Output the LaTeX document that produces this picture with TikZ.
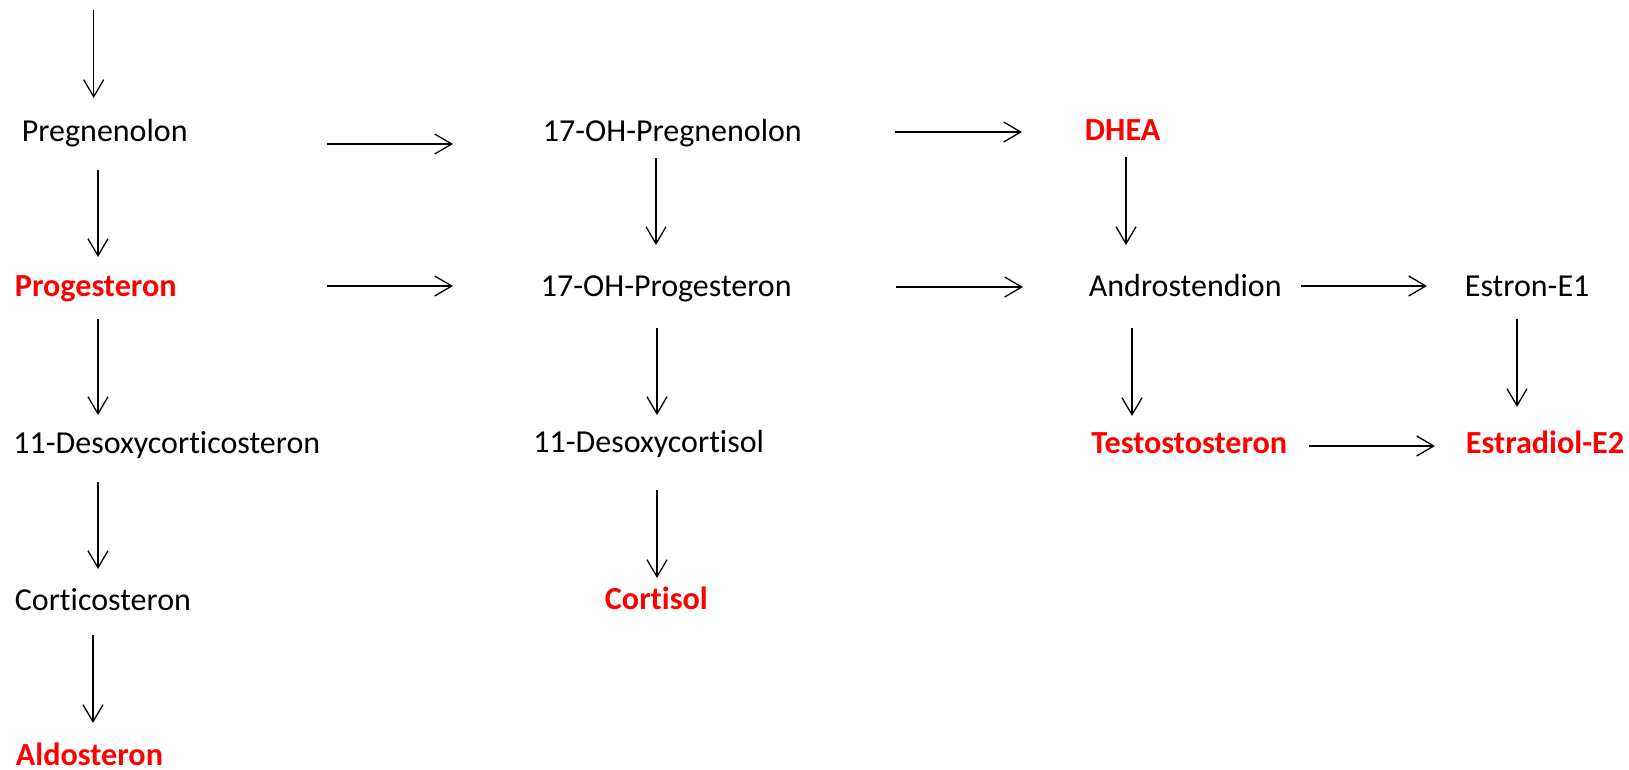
\documentclass[tikz,border=0pt]{standalone}
\usepackage{fontspec}
\setmainfont{Carlito}[Ligatures=NoCommon]
\usetikzlibrary{arrows.meta}
\definecolor{hormone}{RGB}{255,0,0}
\begin{document}
\begin{tikzpicture}[x=0.5pt,y=-0.5pt,
  lbl/.style={anchor=base west,inner sep=0pt,font=\fontsize{16}{19}\selectfont},
  key/.style={lbl,text=hormone,font=\fontsize{16.1}{19}\selectfont\bfseries},
  arr/.style={line width=0.65pt,-{Straight Barb[length=8.5pt,width=10pt,line width=0.65pt]}}]
\useasboundingbox (0,0) rectangle (1629,770);
% metabolites
\node[lbl] (preg)      at (21.5,142)  {Pregnenolon};
\node[lbl] (ohpreg)    at (542.5,142) {17-OH-Pregnenolon};
\node[key] (dhea)      at (1084.5,141){DHEA};
\node[key] (prog)      at (14.5,297)  {Progesteron};
\node[lbl] (ohprog)    at (540.5,297) {17-OH-Progesteron};
\node[lbl] (andro)     at (1088.5,297){Androstendion};
\node[lbl] (estron)    at (1464.5,297){Estron-E1};
\node[lbl] (doc)       at (13,453)    {11-Desoxycorticosteron};
\node[lbl] (dcortisol) at (533,452)   {11-Desoxycortisol};
\node[key] (testo)     at (1091,453)  {Testostosteron};
\node[key] (estradiol) at (1465.5,453){Estradiol-E2};
\node[lbl] (cortico)   at (14.5,610)  {Corticosteron};
\node[key] (cortisol)  at (604.5,609) {Cortisol};
\node[key] (aldo)      at (15.5,765)  {Aldosteron};
\coordinate (source) at (93.7,10);
% conversions
\draw[arr] (source) -- ([shift={(72.2,-44)}]preg.base west);
\draw[arr] ([shift={(76.5,28)}]preg.base west) -- ([shift={(83.5,-40)}]prog.base west);
\draw[arr] ([shift={(305.5,2)}]preg.base west) -- ([shift={(-89.5,2)}]ohpreg.base west);
\draw[arr] ([shift={(352.5,-10)}]ohpreg.base west) -- ([shift={(-62.5,-9)}]dhea.base west);
\draw[arr] ([shift={(113.5,16)}]ohpreg.base west) -- ([shift={(115.5,-52)}]ohprog.base west);
\draw[arr] ([shift={(41.5,16)}]dhea.base west) -- ([shift={(37.5,-52)}]andro.base west);
\draw[arr] ([shift={(312.5,-11)}]prog.base west) -- ([shift={(-87.5,-11)}]ohprog.base west);
\draw[arr] ([shift={(355.5,-10)}]ohprog.base west) -- ([shift={(-65.5,-10)}]andro.base west);
\draw[arr] ([shift={(212.5,-11)}]andro.base west) -- ([shift={(-37.5,-11)}]estron.base west);
\draw[arr] ([shift={(83.5,22)}]prog.base west) -- ([shift={(85,-38)}]doc.base west);
\draw[arr] ([shift={(116.5,31)}]ohprog.base west) -- ([shift={(124,-37)}]dcortisol.base west);
\draw[arr] ([shift={(43.5,31)}]andro.base west) -- ([shift={(41,-37)}]testo.base west);
\draw[arr] ([shift={(52.5,22)}]estron.base west) -- ([shift={(51.5,-46)}]estradiol.base west);
\draw[arr] ([shift={(218,-7)}]testo.base west) -- ([shift={(-30.5,-7)}]estradiol.base west);
\draw[arr] ([shift={(85,29)}]doc.base west) -- ([shift={(83.5,-41)}]cortico.base west);
\draw[arr] ([shift={(124,38)}]dcortisol.base west) -- ([shift={(52.5,-31)}]cortisol.base west);
\draw[arr] ([shift={(78.5,25)}]cortico.base west) -- ([shift={(77.5,-42)}]aldo.base west);
\end{tikzpicture}
\end{document}
